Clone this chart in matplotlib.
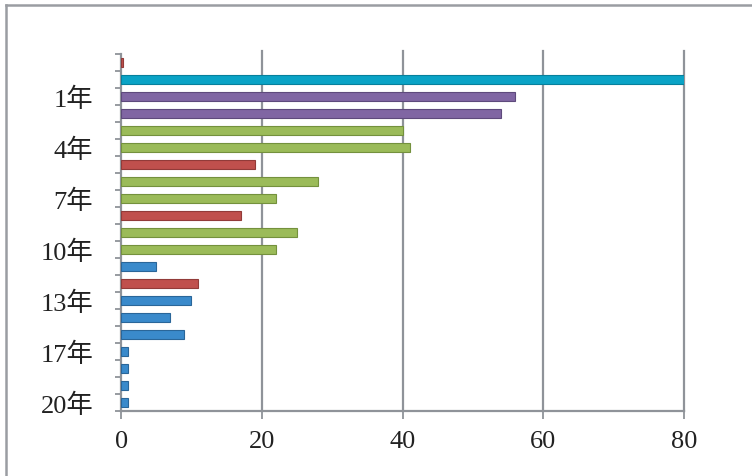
import numpy as np
import matplotlib.pyplot as plt
from matplotlib.lines import Line2D
from matplotlib.transforms import ScaledTranslation

# categories, top to bottom as drawn
years = ["", "0年", "1年", "2年", "3年", "4年", "5年", "6年", "7年", "8年", "9年",
         "10年", "11年", "12年", "13年", "14年", "15年", "17年", "18年", "19年", "20年"]
values = [0.3, 80, 56, 54, 40, 41, 19, 28, 22, 17, 25,
          22, 5, 11, 10, 7, 9, 1, 1, 1, 1]
groups = ["r", "c", "p", "p", "g", "g", "r", "g", "g", "r", "g",
          "g", "b", "r", "b", "b", "b", "b", "b", "b", "b"]

palette = {"c": "#0aa3c6", "p": "#8066a3", "g": "#9bbb59", "r": "#c0504d", "b": "#3a8acb"}
edges = {"c": "#07809c", "p": "#5e4a7c", "g": "#74913d", "r": "#923b39", "b": "#2a6699"}

plt.rcParams['font.family'] = ['Liberation Serif', 'Noto Sans CJK JP']

fig = plt.figure(figsize=(7.52, 4.77), dpi=100)
ax = fig.add_axes([0.161, 0.1363, 0.7486, 0.7484])

y = np.arange(len(years))
cols = [palette[g] for g in groups]
ecols = [edges[g] for g in groups]
ax.barh(y, values, height=0.5, color=cols, edgecolor=ecols, linewidth=0.8, zorder=3)

ax.set_xlim(0, 80)
ax.set_ylim(len(years) - 0.5, -0.5)

grid = "#8f9399"
for v in [20, 40, 60, 80]:
    ax.plot([v, v], [len(years) - 0.5, -0.68], color=grid, lw=1.6, zorder=1,
            clip_on=False)

ax.set_xticks([0, 20, 40, 60, 80])
ax.set_xticklabels(["0", "20", "40", "60", "80"], fontsize=19, color="#222222")

# ticks between categories, labels every third from the bottom
ax.set_yticks(np.arange(len(years) + 1) - 0.5, minor=False)
ax.set_yticklabels([])
ax.set_yticks(y, minor=True)
shown = [lab if (len(years) - 1 - i) % 3 == 0 else "" for i, lab in enumerate(years)]
ax.set_yticklabels(shown, minor=True, fontsize=19, color="#222222")
shift = ScaledTranslation(0, -5 / 100, fig.dpi_scale_trans)
for lab in ax.get_yticklabels(minor=True):
    lab.set_transform(lab.get_transform() + shift)

ax.tick_params(axis="y", which="major", length=4.5, width=1.3, color=grid)
ax.tick_params(axis="y", which="minor", length=0, pad=20)
ax.tick_params(axis="x", length=5.5, width=1.3, color=grid, pad=8)

for s in ["top", "right"]:
    ax.spines[s].set_visible(False)
for s in ["left", "bottom"]:
    ax.spines[s].set_color(grid)
    ax.spines[s].set_linewidth(1.6)

# outer frame (left and top only)
fig.add_artist(Line2D([6 / 752, 6 / 752], [0, 1 - 6 / 477], color="#9a9da2", lw=1.8))
fig.add_artist(Line2D([6 / 752, 1], [1 - 6 / 477, 1 - 6 / 477], color="#9a9da2", lw=1.8))

fig.savefig("out.png", dpi=100)
